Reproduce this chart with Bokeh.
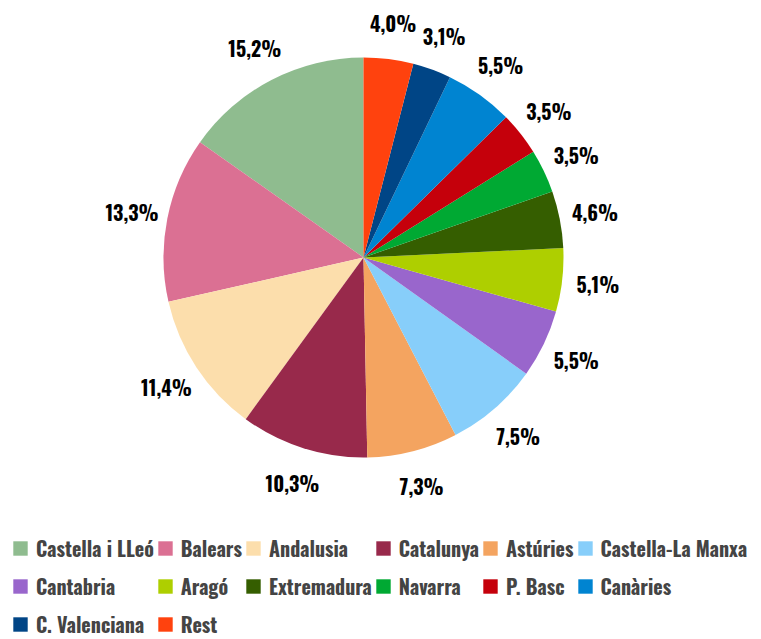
import numpy as np
from bokeh.plotting import figure
from bokeh.models import ColumnDataSource, Legend, LegendItem
from bokeh.core.properties import value
from bokeh.embed import file_html
from bokeh.resources import INLINE

categories = ["Castella i LLeó", "Balears", "Andalusia", "Catalunya", "Astúries",
              "Castella-La Manxa", "Cantabria", "Aragó", "Extremadura", "Navarra",
              "P. Basc", "Canàries", "C. Valenciana", "Rest"]
shares = [15.2, 13.3, 11.4, 10.3, 7.3, 7.5, 5.5, 5.1, 4.6, 3.5, 3.5, 5.5, 3.1, 4.0]
labels = ["15,2%", "13,3%", "11,4%", "10,3%", "7,3%", "7,5%", "5,5%", "5,1%", "4,6%",
          "3,5%", "3,5%", "5,5%", "3,1%", "4,0%"]
colors = ["#8fbc8f", "#db7093", "#fcdeac", "#98294b", "#f4a460", "#87cefa", "#9966cc",
          "#aecf00", "#355e00", "#00a933", "#c5000b", "#0084d1", "#004586", "#ff420e"]

W, H = 761, 639
CX, CY = 363, H - 257
R = 200
RL = 236
FONT = "Oswald, 'Roboto Condensed', sans-serif"

vals = np.array(shares)
frac = vals / vals.sum()
cum = np.concatenate([[0], np.cumsum(frac)])
start = np.pi / 2 + 2 * np.pi * cum[:-1]
end = np.pi / 2 + 2 * np.pi * cum[1:]
mid = (start + end) / 2

src = ColumnDataSource(dict(cat=categories, start=start, end=end, color=colors,
                            lx=CX + RL * np.cos(mid), ly=CY + RL * np.sin(mid), lab=labels))

p = figure(width=W, height=H, output_backend="svg", toolbar_location=None,
           x_range=(0, W), y_range=(0, H), min_border=0, outline_line_color=None)
p.axis.visible = False
p.grid.visible = False

wr = p.wedge(x=CX, y=CY, radius=R, start_angle="start", end_angle="end",
             direction="anticlock", fill_color="color", line_color=None, source=src)
p.text(x="lx", y="ly", text="lab", source=src, text_align="center", text_baseline="middle",
       text_font=value(FONT), text_font_style="bold", text_font_size="20px", text_color="#000000")

items = [LegendItem(label=c, renderers=[wr], index=i) for i, c in enumerate(categories)]
legend = Legend(items=items, location=(11, -3), orientation="horizontal", ncols=6,
                label_text_font=FONT, label_text_font_style="bold", label_text_font_size="20px",
                glyph_width=18, glyph_height=18, label_height=36, label_standoff=7,
                spacing=2, padding=0, margin=0, border_line_color=None,
                background_fill_alpha=0)
p.add_layout(legend)

open("out.html", "w").write(file_html(p, INLINE))
